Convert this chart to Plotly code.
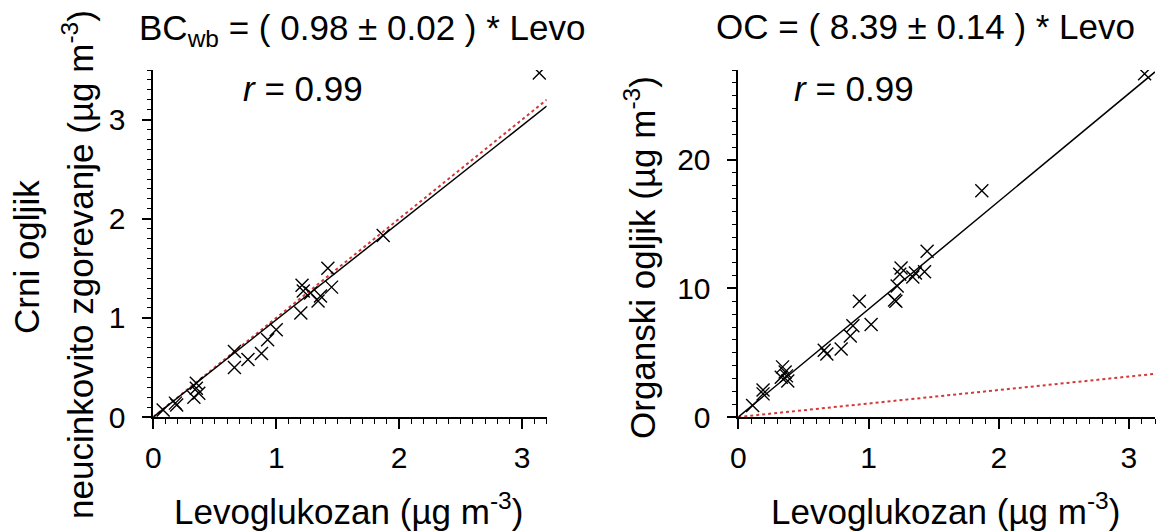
import plotly.graph_objects as go

# ---- data ----
levo_bc = [3.14, 1.87, 1.42, 1.45, 1.21, 1.22, 1.28, 1.36, 1.34, 1.20, 1.00, 0.93, 0.88, 0.77,
           0.66, 0.66, 0.35, 0.35, 0.33, 0.37, 0.18, 0.19, 0.08]
bc_wb = [3.47, 1.83, 1.50, 1.31, 1.33, 1.27, 1.25, 1.22, 1.17, 1.05, 0.88, 0.78, 0.64, 0.58,
         0.66, 0.50, 0.34, 0.29, 0.20, 0.24, 0.14, 0.12, 0.07]

levo_oc = [3.12, 1.87, 1.45, 1.43, 1.36, 1.34, 1.25, 1.24, 1.22, 1.20, 1.21, 0.93, 1.02, 0.88,
           0.86, 0.79, 0.66, 0.68, 0.34, 0.36, 0.37, 0.33, 0.38, 0.19, 0.19, 0.11]
oc = [26.7, 17.6, 12.9, 11.3, 11.2, 10.9, 11.6, 11.1, 10.2, 9.1, 9.0, 9.0, 7.2, 7.1,
      6.3, 5.3, 5.2, 4.9, 3.9, 3.5, 3.2, 3.1, 2.8, 2.1, 1.8, 0.9]

fit_x = [0, 3.2]
slope_bc = 0.98
slope_oc = 8.39
ref_slope_bc = 1.0
ref_slope_oc = 1.05

title_bc = "BC<sub>wb</sub> = ( 0.98 ± 0.02 ) * Levo"
title_oc = "OC = ( 8.39 ± 0.14 ) * Levo"
r_text = "<i>r</i> = 0.99"
xlabel = "Levoglukozan (µg m<sup>-3</sup>)"
ylabel_bc_1 = "Crni ogljik"
ylabel_bc_2 = "neucinkovito zgorevanje (µg m<sup>-3</sup>)"
ylabel_oc = "Organski ogljik (µg m<sup>-3</sup>)"

FONT = "Liberation Sans, Arial, sans-serif"
W, H = 1157, 531

fig = go.Figure()

marker = dict(symbol="x-thin-open", size=13, color="black", line=dict(color="black", width=1.4))

# left panel
fig.add_trace(go.Scatter(x=fit_x, y=[ref_slope_bc * v for v in fit_x], mode="lines",
                         line=dict(color="#d23a3a", width=2, dash="dot"), xaxis="x", yaxis="y"))
fig.add_trace(go.Scatter(x=fit_x, y=[slope_bc * v for v in fit_x], mode="lines",
                         line=dict(color="black", width=1.5), xaxis="x", yaxis="y"))
fig.add_trace(go.Scatter(x=levo_bc, y=bc_wb, mode="markers", marker=marker, xaxis="x", yaxis="y"))

# right panel
fig.add_trace(go.Scatter(x=fit_x, y=[ref_slope_oc * v for v in fit_x], mode="lines",
                         line=dict(color="#d23a3a", width=2, dash="dot"), xaxis="x2", yaxis="y2"))
fig.add_trace(go.Scatter(x=fit_x, y=[slope_oc * v for v in fit_x], mode="lines",
                         line=dict(color="black", width=1.5), xaxis="x2", yaxis="y2"))
fig.add_trace(go.Scatter(x=levo_oc, y=oc, mode="markers", marker=marker, xaxis="x2", yaxis="y2"))

axis_common = dict(showgrid=False, zeroline=False, showline=True, linecolor="black", linewidth=1.5,
                   ticks="outside", ticklen=10, tickwidth=1.5, tickcolor="black", automargin=False,
                   tickfont=dict(family=FONT, size=30, color="black"), mirror=False)

ydom = [1 - 417 / H, 1 - 70 / H]
fig.update_layout(
    width=W, height=H, margin=dict(l=0, r=0, t=0, b=0, autoexpand=False),
    paper_bgcolor="white", plot_bgcolor="white", showlegend=False,
    xaxis=dict(domain=[153.3 / W, 546.7 / W], range=[0, 3.2], dtick=1, anchor="y",
               minor=dict(dtick=0.1, ticks="outside", ticklen=5, tickcolor="black", tickwidth=1),
               ticklabelstandoff=3, **axis_common),
    yaxis=dict(domain=ydom, range=[0, 3.5], dtick=1, anchor="x",
               minor=dict(dtick=0.1, ticks="outside", ticklen=5, tickcolor="black", tickwidth=1),
               ticklabelstandoff=10, **axis_common),
    xaxis2=dict(domain=[738.3 / W, 1155 / W], range=[0, 3.2], dtick=1, anchor="y2",
                minor=dict(dtick=0.1, ticks="outside", ticklen=5, tickcolor="black", tickwidth=1),
                ticklabelstandoff=3, **axis_common),
    yaxis2=dict(domain=ydom, range=[0, 27], dtick=10, anchor="x2",
                minor=dict(dtick=1, ticks="outside", ticklen=5, tickcolor="black", tickwidth=1),
                ticklabelstandoff=10, **axis_common),
)

def ann(text, px, py, angle=0, size=35):
    fig.add_annotation(text=text, x=px / W, y=1 - py / H, xref="paper", yref="paper",
                       xanchor="center", yanchor="middle", showarrow=False, textangle=angle,
                       font=dict(family=FONT, size=size, color="black"))

ann(title_bc, 362, 30)
ann(title_oc, 925, 27)
ann(r_text, 303, 89)
ann(r_text, 854, 89)
ann(ylabel_bc_1, 27, 257, angle=-90)
ann(ylabel_bc_2, 78, 265, angle=-90)
ann(ylabel_oc, 640, 258, angle=-90)
ann(xlabel, 348.5, 509)
ann(xlabel, 945, 509)

fig.write_html("out.html", config={"displayModeBar": False},
               post_script="document.body.style.margin='0';")
